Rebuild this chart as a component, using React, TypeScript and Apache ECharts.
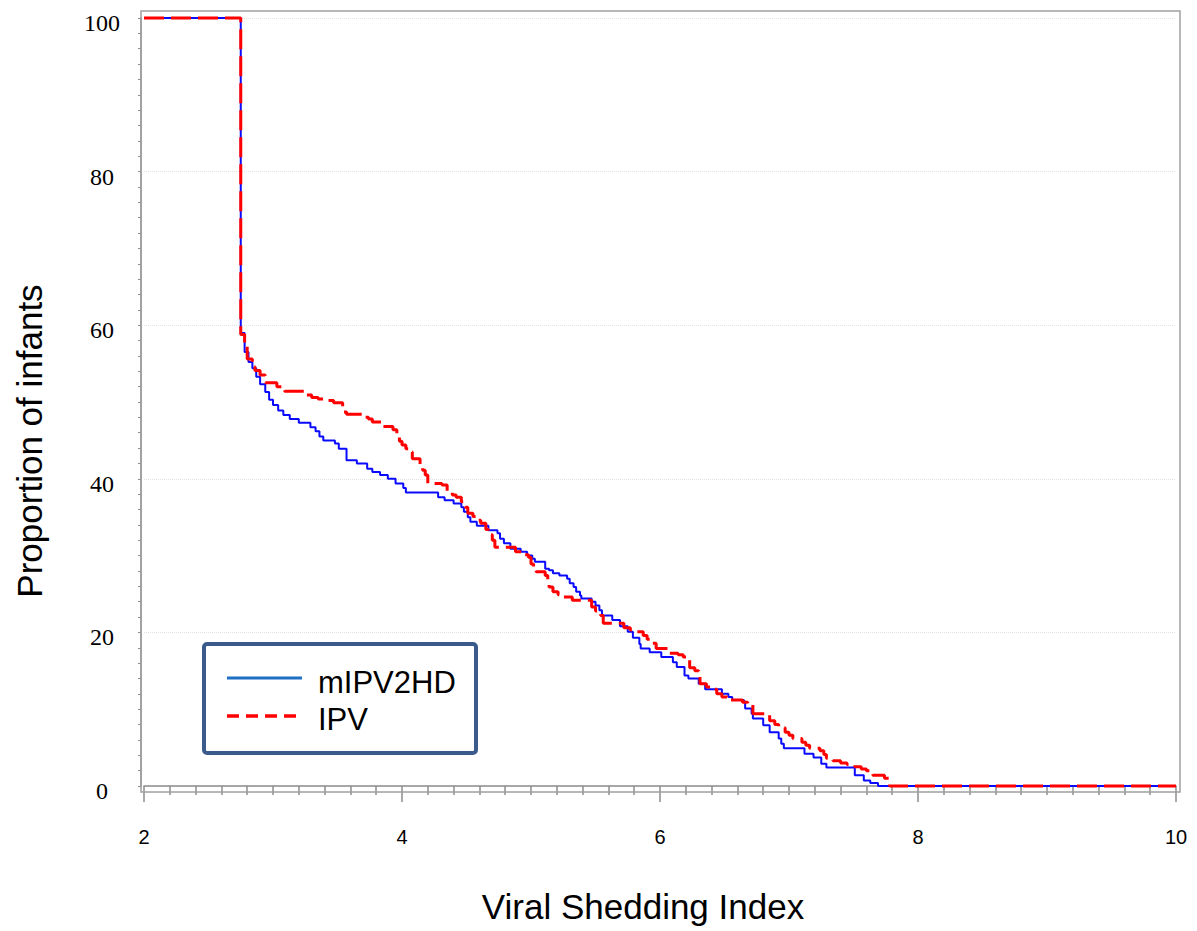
import React, { useEffect, useRef } from "react";
import * as echarts from "echarts";

const SERIES_NAMES = ["mIPV2HD", "IPV"];
const X_TITLE = "Viral Shedding Index";
const Y_TITLE = "Proportion of infants";

// [viral shedding index, proportion of infants] for each step of the curve
const mipv2hdPoints: [number, number][] = [
  [2, 100], [2.75, 59.0], [2.78, 56.5], [2.81, 55.2], [2.84, 54.4], [2.87, 53.3], [2.9, 52.3],
  [2.94, 51.3], [2.97, 50.3], [3.0, 49.6], [3.04, 48.9], [3.08, 48.3], [3.13, 47.8], [3.2, 47.3],
  [3.29, 46.7], [3.33, 46.2], [3.36, 45.5], [3.39, 45.0], [3.48, 44.6], [3.51, 43.9], [3.57, 42.4],
  [3.65, 42.0], [3.73, 41.3], [3.77, 40.9], [3.83, 40.5], [3.89, 40.0], [3.95, 39.4], [4.01, 38.8],
  [4.03, 38.2], [4.28, 37.6], [4.33, 37.2], [4.4, 36.8], [4.46, 36.3], [4.48, 35.7], [4.51, 35.0],
  [4.53, 34.4], [4.58, 33.9], [4.67, 33.3], [4.74, 32.9], [4.76, 32.2], [4.79, 31.6], [4.84, 30.9],
  [4.92, 30.5], [4.97, 30.0], [5.01, 29.6], [5.03, 29.2], [5.11, 28.3], [5.14, 28.1], [5.17, 27.7],
  [5.22, 27.4], [5.28, 27.0], [5.3, 26.4], [5.33, 25.9], [5.35, 25.3], [5.38, 24.8], [5.39, 24.4],
  [5.47, 24.0], [5.5, 23.5], [5.53, 22.9], [5.55, 22.2], [5.63, 21.6], [5.69, 20.8], [5.75, 20.1],
  [5.79, 19.3], [5.84, 18.5], [5.85, 17.9], [5.92, 17.4], [6.01, 16.8], [6.1, 16.1], [6.13, 15.5],
  [6.19, 14.4], [6.22, 14.0], [6.3, 13.3], [6.35, 12.6], [6.48, 12.0], [6.53, 11.6], [6.56, 11.2],
  [6.65, 11.0], [6.66, 10.1], [6.71, 9.4], [6.72, 8.8], [6.8, 7.9], [6.85, 7.0], [6.92, 6.2],
  [6.94, 5.5], [6.96, 4.9], [7.12, 4.2], [7.19, 3.7], [7.25, 2.9], [7.29, 2.4], [7.51, 1.4],
  [7.58, 0.7], [7.63, 0.4], [7.69, 0], [10, 0],
];

const ipvPoints: [number, number][] = [
  [2, 100], [2.75, 58.8], [2.78, 57.2], [2.8, 55.6], [2.84, 54.6], [2.86, 54.1], [2.9, 53.5],
  [2.94, 52.5], [3.03, 52.0], [3.09, 51.4], [3.26, 50.9], [3.3, 50.6], [3.35, 50.4], [3.42, 50.2],
  [3.47, 49.9], [3.54, 48.7], [3.57, 48.4], [3.7, 48.0], [3.74, 47.8], [3.77, 47.4], [3.84, 46.8],
  [3.93, 46.4], [3.96, 45.4], [3.98, 44.9], [4.0, 44.4], [4.03, 43.9], [4.05, 43.5], [4.08, 42.6],
  [4.14, 41.8], [4.16, 41.1], [4.18, 40.5], [4.2, 39.4], [4.31, 39.2], [4.35, 38.4], [4.39, 37.9],
  [4.42, 37.6], [4.46, 37.0], [4.49, 36.3], [4.51, 35.5], [4.55, 35.1], [4.58, 34.6], [4.61, 34.2],
  [4.65, 33.4], [4.67, 32.7], [4.7, 32.0], [4.72, 31.1], [4.88, 30.5], [4.93, 30.1], [4.98, 29.8],
  [5.0, 28.9], [5.02, 28.4], [5.04, 27.9], [5.11, 27.4], [5.13, 26.6], [5.14, 25.9], [5.17, 25.3],
  [5.21, 24.9], [5.25, 24.6], [5.32, 24.2], [5.47, 23.3], [5.5, 22.8], [5.54, 22.2], [5.56, 21.2],
  [5.72, 20.6], [5.77, 20.3], [5.82, 20.1], [5.87, 19.6], [5.9, 19.1], [5.94, 18.6], [5.97, 17.9],
  [6.06, 17.3], [6.14, 17.1], [6.18, 16.8], [6.22, 16.4], [6.23, 15.4], [6.27, 15.0], [6.3, 14.5],
  [6.31, 13.3], [6.36, 12.9], [6.39, 12.6], [6.44, 12.0], [6.48, 11.6], [6.52, 11.2], [6.64, 10.9],
  [6.68, 10.7], [6.72, 9.4], [6.85, 8.5], [6.89, 8.0], [6.92, 7.6], [6.97, 7.0], [7.0, 6.6],
  [7.03, 6.2], [7.1, 5.7], [7.13, 5.3], [7.16, 4.9], [7.24, 4.6], [7.27, 4.1], [7.29, 3.6],
  [7.34, 3.3], [7.4, 3.0], [7.45, 2.8], [7.51, 2.5], [7.56, 2.2], [7.6, 2.0], [7.65, 1.4],
  [7.74, 1.0], [7.78, 0], [10, 0],
];

const SANS = "'Liberation Sans', Arial, Helvetica, sans-serif";
const SERIF = "'Liberation Serif', 'Times New Roman', serif";

export default function App() {
  const ref = useRef<HTMLDivElement>(null);

  useEffect(() => {
    const chart = echarts.init(ref.current!, null, { renderer: "svg" });
    chart.setOption({
      animation: false,
      backgroundColor: "#ffffff",
      grid: { left: 144, right: 21, top: 18, bottom: 145, containLabel: false },
      xAxis: {
        type: "value",
        min: 2,
        max: 10,
        interval: 2,
        offset: 6,
        axisLine: { show: true, lineStyle: { color: "#8c8c8c", width: 1.5 } },
        axisTick: { show: true, length: 16, lineStyle: { color: "#8c8c8c", width: 1.5 } },
        minorTick: { show: true, splitNumber: 10, length: 9, lineStyle: { color: "#8c8c8c", width: 1.5 } },
        splitLine: { show: false },
        axisLabel: { color: "#000", fontSize: 20, fontFamily: SANS, margin: 35 },
      },
      yAxis: {
        type: "value",
        min: 0,
        max: 100,
        interval: 20,
        offset: 3,
        axisLine: { show: true, lineStyle: { color: "#8c8c8c", width: 1.5 } },
        axisTick: { show: true, length: 3, lineStyle: { color: "#8c8c8c", width: 1 } },
        minorTick: { show: true, splitNumber: 10, length: 3, lineStyle: { color: "#8c8c8c", width: 1 } },
        splitLine: { show: true, lineStyle: { color: "#e2e2e2", type: "dotted", width: 1 } },
        axisLabel: {
          color: "#000",
          fontSize: 24,
          fontFamily: SERIF,
          margin: 39,
          align: "center",
          verticalAlign: "top",
          lineHeight: 10,
        },
      },
      series: [
        {
          type: "line",
          name: SERIES_NAMES[0],
          data: mipv2hdPoints,
          step: "end",
          symbol: "none",
          clip: false,
          lineStyle: { color: "#0a0aff", width: 2 },
          z: 2,
        },
        {
          type: "line",
          name: SERIES_NAMES[1],
          data: ipvPoints,
          step: "end",
          symbol: "none",
          clip: false,
          lineStyle: { color: "#ff0000", width: 3, type: [20, 7] },
          z: 3,
        },
      ],
      graphic: [
        {
          type: "rect",
          silent: true,
          shape: { x: 141, y: 11, width: 1039, height: 781 },
          style: { fill: "none", stroke: "#a0a0a0", lineWidth: 1.5 },
          z: 1,
        },
        {
          type: "text",
          x: 643,
          y: 906,
          style: {
            text: X_TITLE,
            fontSize: 35,
            fontFamily: SANS,
            fill: "#000",
            align: "center",
            verticalAlign: "middle",
          },
        },
        {
          type: "text",
          x: 29,
          y: 441,
          rotation: Math.PI / 2,
          style: {
            text: Y_TITLE,
            fontSize: 35,
            fontFamily: SANS,
            fill: "#000",
            align: "center",
            verticalAlign: "middle",
          },
        },
        {
          type: "rect",
          shape: { x: 204, y: 644, width: 272, height: 109, r: 3 },
          style: { fill: "#ffffff", stroke: "#3b5b8c", lineWidth: 4 },
          z: 10,
        },
        {
          type: "line",
          shape: { x1: 227, y1: 678, x2: 302, y2: 678 },
          style: { stroke: "#1f6fc5", lineWidth: 3 },
          z: 11,
        },
        {
          type: "line",
          shape: { x1: 227, y1: 716, x2: 302, y2: 716 },
          style: { stroke: "#ff0000", lineWidth: 3.5, lineDash: [12, 7] },
          z: 11,
        },
        {
          type: "text",
          x: 318,
          y: 682,
          style: {
            text: SERIES_NAMES[0],
            fontSize: 31,
            fontFamily: SANS,
            fill: "#000",
            align: "left",
            verticalAlign: "middle",
          },
          z: 11,
        },
        {
          type: "text",
          x: 318,
          y: 719,
          style: {
            text: SERIES_NAMES[1],
            fontSize: 31,
            fontFamily: SANS,
            fill: "#000",
            align: "left",
            verticalAlign: "middle",
          },
          z: 11,
        },
      ],
    });
    return () => chart.dispose();
  }, []);

  return (
    <div
      ref={ref}
      style={{ position: "absolute", left: 0, top: 0, width: 1197, height: 931, background: "#fff" }}
    />
  );
}
